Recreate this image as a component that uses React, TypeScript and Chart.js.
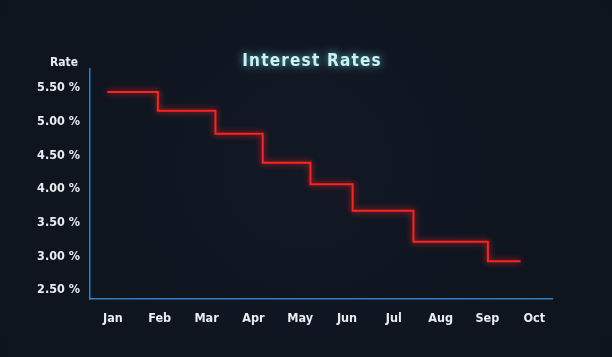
import React, { useEffect, useRef } from "react";
import { Chart, registerables } from "chart.js";

Chart.register(...registerables);

const monthLabels = ["Jan", "Feb", "Mar", "Apr", "May", "Jun", "Jul", "Aug", "Sep", "Oct"];
// positions along the month axis (0 = Jan) where the rate changes
const stepMonths = [-0.12, 0.96, 2.19, 3.2, 4.22, 5.12, 6.42, 8.01, 8.71];
const rates = [5.44, 5.16, 4.82, 4.39, 4.07, 3.68, 3.22, 2.93, 2.93];
const yTicks = [2.5, 3.0, 3.5, 4.0, 4.5, 5.0, 5.5];

const FONT = "'DejaVu Sans Condensed', 'DejaVu Sans', sans-serif";

export default function App() {
  const ref = useRef<HTMLCanvasElement>(null);
  useEffect(() => {
    document.body.style.margin = "0";
    document.body.style.background = "#0d131c";
    const canvas = ref.current!;
    const bgPlugin = {
      id: "bg",
      beforeDraw(chart: any) {
        const { ctx, width, height } = chart;
        ctx.save();
        const g = ctx.createRadialGradient(width * 0.5, height * 0.45, 20, width * 0.5, height * 0.5, width * 0.7);
        g.addColorStop(0, "#121824");
        g.addColorStop(1, "#0d131b");
        ctx.fillStyle = g;
        ctx.fillRect(0, 0, width, height);
        ctx.restore();
      },
    };
    const textPlugin = {
      id: "texts",
      afterDraw(chart: any) {
        const { ctx, chartArea } = chart;
        ctx.save();
        ctx.font = `bold 17px ${FONT}`;
        (ctx as any).letterSpacing = "1.2px";
        ctx.textAlign = "center";
        ctx.textBaseline = "middle";
        ctx.shadowColor = "rgba(120,220,240,0.8)";
        ctx.shadowBlur = 8;
        ctx.fillStyle = "#c8f4f6";
        ctx.fillText("Interest Rates", 312, 62);
        ctx.shadowBlur = 0;
        (ctx as any).letterSpacing = "0px";
        ctx.font = `bold 12px ${FONT}`;
        ctx.fillStyle = "#e9edf2";
        ctx.fillText("Rate", chartArea.left - 26, 63);
        ctx.restore();
      },
    };
    const glowPlugin = {
      id: "glow",
      beforeDatasetDraw(chart: any) {
        const ctx = chart.ctx;
        ctx.save();
        ctx.shadowColor = "rgba(255,40,40,0.9)";
        ctx.shadowBlur = 6;
      },
      afterDatasetDraw(chart: any) {
        chart.ctx.restore();
      },
    };
    const tickFont = { family: FONT, size: 12.5, weight: "bold" };
    const chart = new Chart(canvas, {
      type: "line",
      data: {
        datasets: [
          {
            data: stepMonths.map((m, i) => ({ x: m, y: rates[i] })),
            borderColor: "#ff2222",
            borderWidth: 2,
            pointRadius: 0,
            stepped: true,
            fill: false,
          },
        ],
      },
      options: {
        animation: false,
        responsive: false,
        layout: { padding: { top: 69, right: 60, bottom: 0, left: 0 } },
        plugins: { legend: { display: false }, tooltip: { enabled: false }, title: { display: false } },
        scales: {
          x: {
            type: "linear",
            min: -0.49,
            max: 9.38,
            grid: { display: false },
            border: { color: "#2f7fc0", width: 1.5 },
            afterBuildTicks: (s: any) => {
              s.ticks = monthLabels.map((_, i) => ({ value: i }));
            },
            afterFit: (s: any) => {
              s.height = 58;
            },
            ticks: {
              color: "#e9edf2",
              font: tickFont,
              padding: 4,
              maxRotation: 0,
              autoSkip: false,
              callback: (v: any) => monthLabels[Math.round(Number(v))] ?? "",
            },
          },
          y: {
            type: "linear",
            min: 2.37,
            max: 5.78,
            grid: { display: false },
            border: { color: "#2f7fc0", width: 1.5 },
            afterBuildTicks: (s: any) => {
              s.ticks = yTicks.map((v) => ({ value: v }));
            },
            afterFit: (s: any) => {
              s.width = 90;
            },
            ticks: {
              color: "#e9edf2",
              font: tickFont,
              padding: 2,
              callback: (v: any) => Number(v).toFixed(2) + " %",
            },
          },
        },
      },
      plugins: [bgPlugin, glowPlugin, textPlugin],
    } as any);
    return () => chart.destroy();
  }, []);
  return <canvas ref={ref} width={612} height={357} style={{ display: "block" }} />;
}
